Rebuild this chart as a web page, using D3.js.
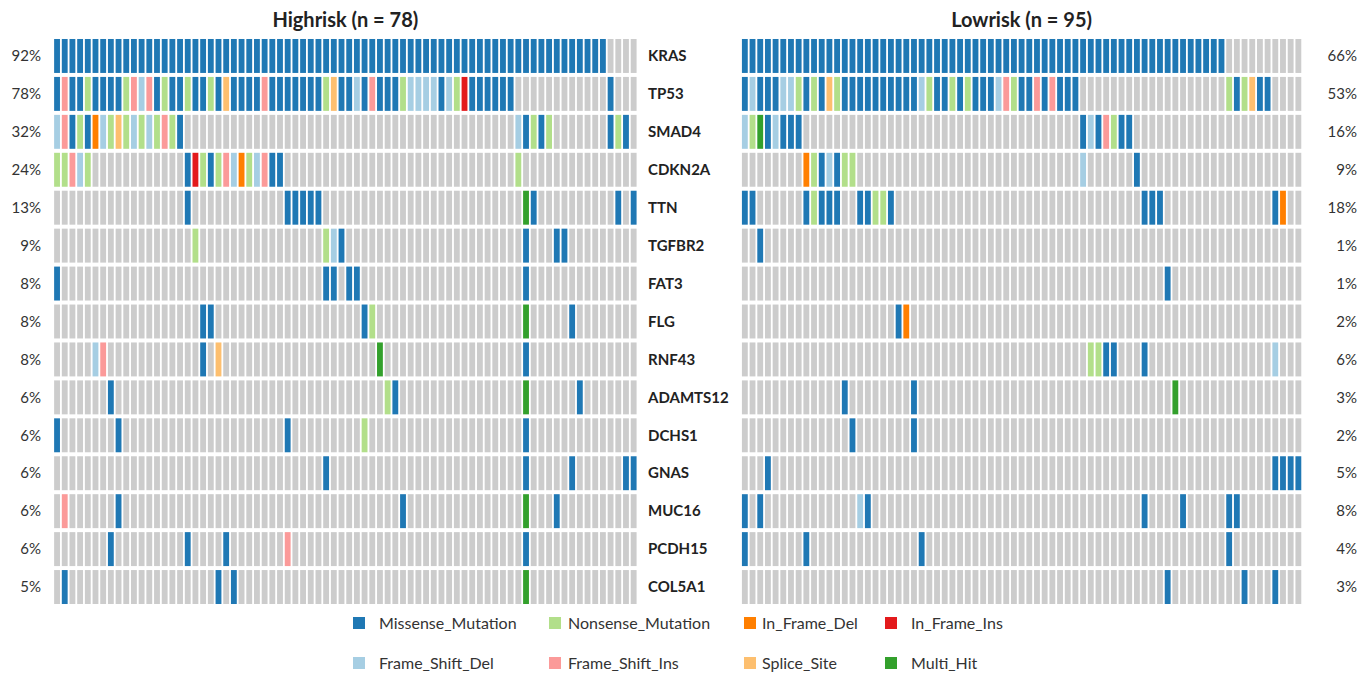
<!DOCTYPE html>
<html><head><meta charset="utf-8">
<script src="https://cdn.jsdelivr.net/npm/d3@7"></script>
<style>body{margin:0;background:#fff} svg{display:block} text{font-family:Lato,"Noto Sans",sans-serif;fill:#222}</style>
</head><body><svg id="c" width="1359" height="677"></svg>
<script>
const genes = ["KRAS","TP53","SMAD4","CDKN2A","TTN","TGFBR2","FAT3","FLG","RNF43","ADAMTS12","DCHS1","GNAS","MUC16","PCDH15","COL5A1"];
const highPct = ["92%","78%","32%","24%","13%","9%","8%","8%","8%","6%","6%","6%","6%","6%","5%"];
const lowPct  = ["66%","53%","16%","9%","18%","1%","1%","2%","6%","3%","2%","5%","8%","4%","3%"];
const groupTitles = ["Highrisk (n = 78)","Lowrisk (n = 95)"];
// codes: M Missense, N Nonsense, D In_Frame_Del, I In_Frame_Ins, d Frame_Shift_Del, i Frame_Shift_Ins, S Splice_Site, H Multi_Hit, . none
const typeCodes  = ["M","N","D","I","d","i","S","H"];
const typeNames  = ["Missense_Mutation","Nonsense_Mutation","In_Frame_Del","In_Frame_Ins","Frame_Shift_Del","Frame_Shift_Ins","Splice_Site","Multi_Hit"];
const typeColors = ["#1F78B4","#B2DF8A","#FF7F00","#E31A1C","#A6CEE3","#FB9A99","#FDBF6F","#33A02C"];

// Highrisk samples (76 columns)
const highRows = [
 "MMMMMMMMMM"+"MMMMMMMMMM"+"MMMMMMMMMM"+"MMMMMMMMMM"+"MMMMMMMMMM"+"MMMMMMMMMM"+"MMMMMMMMMM"+"MM....",
 "MiMMNMMMMN"+"idiMNMMNMM"+"NMSMMMMiMM"+"MMMMMNSMMd"+"MiMMMNdddd"+"MdNIMMMMMM"+".........."+"..M...",
 "diMNMDdNSN"+"dNdNiNM..."+".........."+".........."+".........."+".........."+"dMNMN....."+"..MNM.",
 "NNidN....."+".......MIN"+"MNidDNdiMM"+".........."+".........."+".........."+"N........."+"......",
 ".........."+".......M.."+".........."+"MMMMM....."+".........."+".........."+".HM......."+"...M.M",
 ".........."+"........N."+".........."+".....NdM.."+".........."+".........."+".M...MM..."+"......",
 "M........."+".........."+".........."+".....MM.MM"+".........."+".........."+".M........"+"......",
 ".........."+".........M"+"M........."+".........."+"MN........"+".........."+".H.....M.."+"......",
 ".....di..."+".........M"+".S........"+".........."+"..H......."+".........."+".M........"+"......",
 ".......M.."+".........."+".........."+".........."+"...NM....."+".........."+".H......M."+"......",
 "M.......M."+".........."+".........."+"M........."+"N........."+".........."+".M........"+"......",
 ".........."+".........."+".........."+".....M...."+".........."+".........."+".M.....M.."+"....MM",
 ".i......M."+".........."+".........."+".........."+".....M...."+".........."+".H...M...."+"......",
 ".......M.."+".......M.."+"..M......."+"i........."+".........."+".........."+".M........"+"......",
 ".M........"+".........."+".M.M......"+".........."+".........."+".........."+".H........"+"......"
];
// Lowrisk samples (73 columns)
const lowRows = [
 "MMMMMMMMMM"+"MMMMMMMMMM"+"MMMMMMMMMM"+"MMMMMMMMMM"+"MMMMMMMMMM"+"MMMMMMMMMM"+"MMM......."+"...",
 "MdMMMddNMN"+"MSNMMMMMMM"+"MMMdNMMNMN"+"MMMdiNMMiM"+"iMMM......"+".........."+"...NMNSMM."+"...",
 "dNHMdMMM.."+".........."+".........."+".........."+"....MdMiNM"+"M........."+".........."+"...",
 "........DN"+"MdMNN....."+".........."+".........."+"....d....."+".M........"+".........."+"...",
 "MM......MN"+"MMM..MMNNM"+".........."+".........."+".........."+"..MMM....."+".........M"+"D..",
 "..M......."+".........."+".........."+".........."+".........."+".........."+".........."+"...",
 ".........."+".........."+".........."+".........."+".........."+".....M...."+".........."+"...",
 ".........."+".........."+"MD........"+".........."+".........."+".........."+".........."+"...",
 ".........."+".........."+".........."+".........."+".....NNMM."+"..M......."+".........d"+"...",
 ".........."+"...M......"+"..M......."+".........."+".........."+"......H..."+".........."+"...",
 ".........."+"....M....."+"..M......."+".........."+".........."+".........."+".........."+"...",
 "...M......"+".........."+".........."+".........."+".........."+".........."+".........M"+"MMM",
 "M.M......."+".....dM..."+".........."+".........."+".........."+"..M....M.."+"...MM....."+"...",
 "M.......M."+".........."+"...M......"+".........."+".........."+".........."+"...M......"+"...",
 ".........."+".........."+".........."+".........."+".........."+".....M...."+".....M...M"+"..."
];

const svg = d3.select("#c");
const color = d3.scaleOrdinal().domain(typeCodes).range(typeColors);
const y = d3.scaleBand().domain(genes).range([37, 606]).paddingInner(0.105).paddingOuter(0.0525);

function panel(rows, x0, x1, title) {
  const n = rows[0].length;
  const x = d3.scaleBand().domain(d3.range(n)).range([x0, x1]).paddingInner(0.24).paddingOuter(0.12);
  const g = svg.append("g");
  const cells = [];
  rows.forEach((r, gi) => { for (let c = 0; c < n; c++) cells.push({gene: genes[gi], col: c, code: r[c]}); });
  g.selectAll("rect").data(cells).join("rect")
    .attr("x", d => x(d.col)).attr("y", d => y(d.gene))
    .attr("width", x.bandwidth()).attr("height", y.bandwidth())
    .attr("fill", d => d.code === "." ? "#CCCCCC" : color(d.code));
  svg.append("text").attr("x", (x0 + x1) / 2).attr("y", 27).attr("text-anchor", "middle")
    .attr("font-size", 20).attr("font-weight", "bold").text(title);
}
panel(highRows, 53.2, 637.5, groupTitles[0]);
panel(lowRows, 741, 1302.2, groupTitles[1]);

const mid = d => y(d) + y.bandwidth() / 2;
svg.append("g").selectAll("text").data(genes).join("text")
  .attr("x", 41).attr("y", d => mid(d)).attr("dy", "0.35em").attr("text-anchor", "end")
  .attr("font-size", 15).style("fill", "#333").text((d, i) => highPct[i]);
svg.append("g").selectAll("text").data(genes).join("text")
  .attr("x", 1357).attr("y", d => mid(d)).attr("dy", "0.35em").attr("text-anchor", "end")
  .attr("font-size", 15).style("fill", "#333").text((d, i) => lowPct[i]);
svg.append("g").selectAll("text").data(genes).join("text")
  .attr("x", 648).attr("y", d => mid(d)).attr("dy", "0.35em")
  .attr("font-size", 15).attr("font-weight", "bold").text(d => d);

// legend: 2 rows x 4 columns
const legSq = [353, 549, 744, 885], legTx = [379, 568, 762, 911], legY = [623, 663];
const leg = svg.append("g").selectAll("g").data(typeNames).join("g")
  .attr("transform", (d, i) => `translate(0,${legY[Math.floor(i / 4)]})`);
leg.append("rect").attr("x", (d, i) => legSq[i % 4]).attr("y", -6).attr("width", 12).attr("height", 12)
  .attr("fill", (d, i) => typeColors[i]);
leg.append("text").attr("x", (d, i) => legTx[i % 4]).attr("dy", "0.35em").attr("font-size", 16)
  .style("fill", "#333").text(d => d);
</script></body></html>
